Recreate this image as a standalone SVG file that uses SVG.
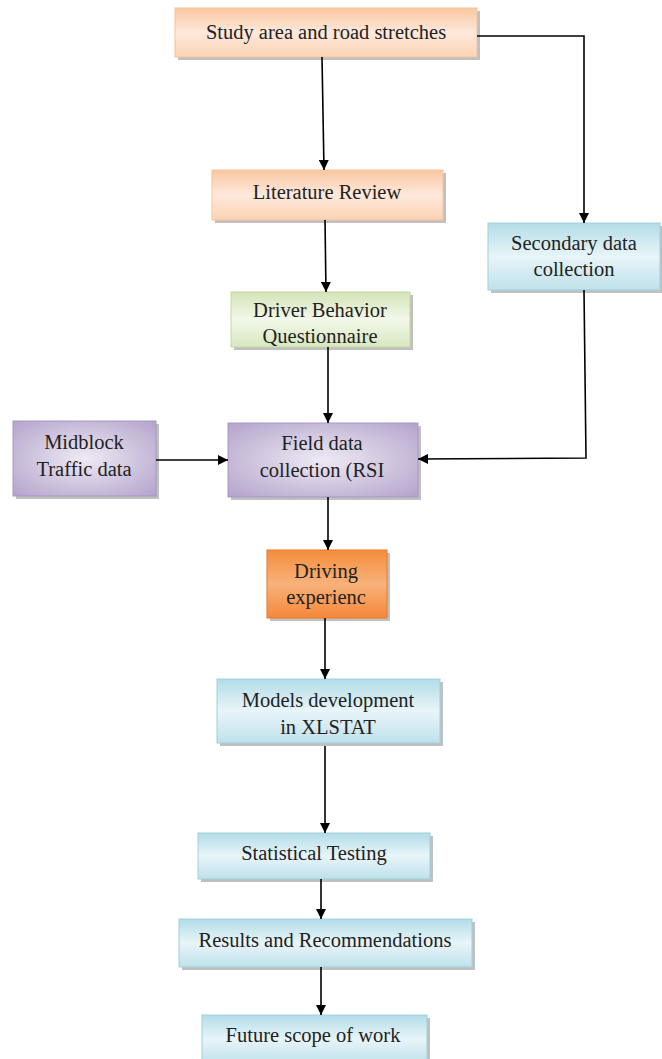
<svg xmlns="http://www.w3.org/2000/svg" width="662" height="1059" viewBox="0 0 662 1059">
<defs>
<linearGradient id="gPeach" x1="0" y1="0" x2="0" y2="1">
<stop offset="0" stop-color="#f9c7a0"/><stop offset="0.5" stop-color="#fde9dc"/><stop offset="1" stop-color="#fbd3b3"/>
</linearGradient>
<linearGradient id="gBlue" x1="0" y1="0" x2="0" y2="1">
<stop offset="0" stop-color="#b3dce7"/><stop offset="0.5" stop-color="#e8f5f9"/><stop offset="1" stop-color="#bfe1ea"/>
</linearGradient>
<linearGradient id="gGreen" x1="0" y1="0" x2="0" y2="1">
<stop offset="0" stop-color="#d4e4b8"/><stop offset="0.5" stop-color="#f3f8ea"/><stop offset="1" stop-color="#d8e7bf"/>
</linearGradient>
<radialGradient id="gPurple" cx="0.5" cy="0.5" r="0.7">
<stop offset="0" stop-color="#eeeaf4"/><stop offset="1" stop-color="#b3a3cb"/>
</radialGradient>
<linearGradient id="gOrange" x1="0" y1="0" x2="0" y2="1">
<stop offset="0" stop-color="#f58d3c"/><stop offset="0.5" stop-color="#f8b27a"/><stop offset="1" stop-color="#f4883a"/>
</linearGradient>
<marker id="arr" viewBox="0 0 10 10" refX="10" refY="5" markerWidth="10" markerHeight="10" markerUnits="userSpaceOnUse" orient="auto">
<path d="M0,0 L10,5 L0,10 z" fill="#000"/>
</marker>
</defs>
<style>
.sh{fill:#8c8c8c;opacity:0.55}
.peach{fill:url(#gPeach);stroke:#f6c39c;stroke-width:1}
.blue{fill:url(#gBlue);stroke:#9fd0dd;stroke-width:1}
.green{fill:url(#gGreen);stroke:#c4d8a2;stroke-width:1}
.purple{fill:url(#gPurple);stroke:#a897c2;stroke-width:1}
.orange{fill:url(#gOrange);stroke:#e8782a;stroke-width:1}
text{font-family:"Liberation Serif","Times New Roman",serif;font-size:20.5px;fill:#222;text-anchor:middle}
.c{stroke:#000;stroke-width:1.6;fill:none}
</style>
<rect width="662" height="1059" fill="#fff"/>
<g id="n1">
<rect class="sh" x="178" y="11" width="302" height="49"/>
<rect class="peach" x="175" y="8" width="302" height="49"/>
<text x="326" y="39">Study area and road stretches</text>
</g>
<g id="n2">
<rect class="sh" x="215" y="173" width="231" height="50"/>
<rect class="peach" x="212" y="170" width="231" height="50"/>
<text x="327" y="199">Literature Review</text>
</g>
<g id="n3">
<rect class="sh" x="491" y="226" width="171" height="67"/>
<rect class="blue" x="488" y="223" width="172" height="67"/>
<text x="574" y="250">Secondary data</text>
<text x="574" y="276">collection</text>
</g>
<g id="n4">
<rect class="sh" x="234" y="295" width="179" height="55"/>
<rect class="green" x="231" y="292" width="179" height="55"/>
<text x="320" y="317">Driver Behavior</text>
<text x="320" y="343">Questionnaire</text>
</g>
<g id="n5">
<rect class="sh" x="16" y="424" width="143" height="75"/>
<rect class="purple" x="13" y="421" width="143" height="75"/>
<text x="84" y="449">Midblock</text>
<text x="84" y="476">Traffic data</text>
</g>
<g id="n6">
<rect class="sh" x="231" y="426" width="190" height="74"/>
<rect class="purple" x="228" y="423" width="190" height="74"/>
<text x="322" y="450">Field data</text>
<text x="322" y="477">collection (RSI</text>
</g>
<g id="n7">
<rect class="sh" x="270" y="553" width="120" height="68"/>
<rect class="orange" x="267" y="550" width="120" height="68"/>
<text x="326" y="578">Driving</text>
<text x="326" y="604">experienc</text>
</g>
<g id="n8">
<rect class="sh" x="220" y="682" width="223" height="64"/>
<rect class="blue" x="217" y="679" width="223" height="64"/>
<text x="328" y="707">Models development</text>
<text x="328" y="734">in XLSTAT</text>
</g>
<g id="n9">
<rect class="sh" x="201" y="836" width="232" height="46"/>
<rect class="blue" x="198" y="833" width="232" height="46"/>
<text x="314" y="860">Statistical Testing</text>
</g>
<g id="n10">
<rect class="sh" x="182" y="922" width="293" height="48"/>
<rect class="blue" x="179" y="919" width="293" height="48"/>
<text x="325" y="947">Results and Recommendations</text>
</g>
<g id="n11">
<rect class="sh" x="205" y="1018" width="225" height="48"/>
<rect class="blue" x="202" y="1015" width="225" height="48"/>
<text x="313" y="1042">Future scope of work</text>
</g>
<g id="connectors">
<path class="c" d="M322,57 L324,170" marker-end="url(#arr)"/>
<path class="c" d="M477,36 L584,36 L584,223" marker-end="url(#arr)"/>
<path class="c" d="M325,220 L326,292" marker-end="url(#arr)"/>
<path class="c" d="M328,347 L328,423" marker-end="url(#arr)"/>
<path class="c" d="M156,460 L228,460" marker-end="url(#arr)"/>
<path class="c" d="M584,290 L586,458 L418,459" marker-end="url(#arr)"/>
<path class="c" d="M328,497 L328,550" marker-end="url(#arr)"/>
<path class="c" d="M325,618 L325,679" marker-end="url(#arr)"/>
<path class="c" d="M325,746 L325,833" marker-end="url(#arr)"/>
<path class="c" d="M321,879 L321,919" marker-end="url(#arr)"/>
<path class="c" d="M321,967 L321,1015" marker-end="url(#arr)"/>
</g>
</svg>
